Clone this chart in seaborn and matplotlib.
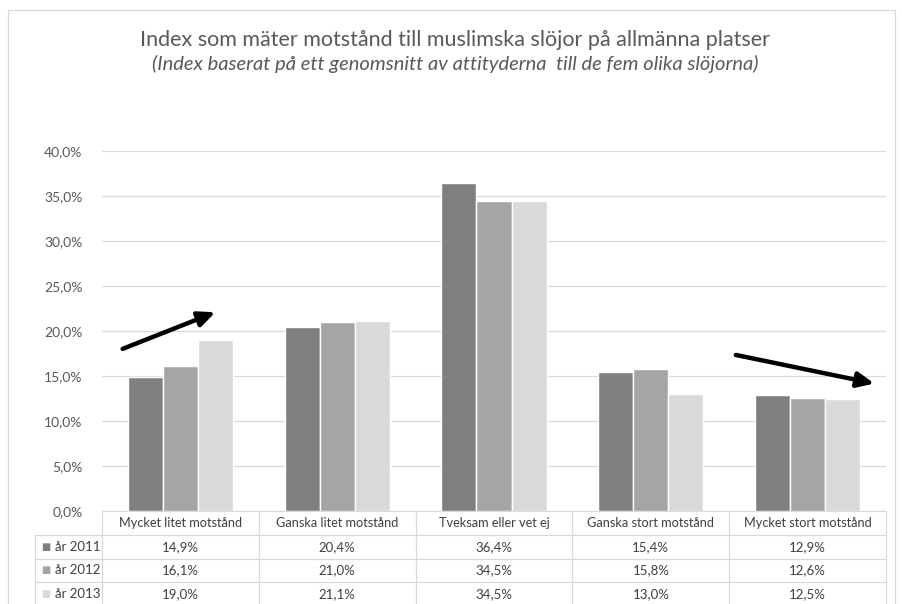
import matplotlib
matplotlib.use("Agg")
import matplotlib.pyplot as plt
import matplotlib.transforms as mtransforms
from matplotlib.patches import Rectangle
import seaborn as sns
import pandas as pd

categories = ["Mycket litet motstånd", "Ganska litet motstånd", "Tveksam eller vet ej",
              "Ganska stort motstånd", "Mycket stort motstånd"]
years = ["år 2011", "år 2012", "år 2013"]
v2011 = [14.9, 20.4, 36.4, 15.4, 12.9]
v2012 = [16.1, 21.0, 34.5, 15.8, 12.6]
v2013 = [19.0, 21.1, 34.5, 13.0, 12.5]
colors = ["#7f7f7f", "#a5a5a5", "#d9d9d9"]
yticks = [0, 5, 10, 15, 20, 25, 30, 35, 40]

series = [v2011, v2012, v2013]
rows = []
for y, vals in zip(years, series):
    for c, v in zip(categories, vals):
        rows.append({"cat": c, "year": y, "val": v / 100})
df = pd.DataFrame(rows)

sns.set_style("white")
plt.rcParams["font.family"] = ["Lato", "DejaVu Sans"]

W, H = 902, 604
fig = plt.figure(figsize=(W / 100, H / 100), dpi=100)
ax = fig.add_axes([102 / W, (H - 511) / H, 784 / W, 360 / H])

sns.barplot(data=df, x="cat", y="val", hue="year", palette=colors, width=0.67,
            ax=ax, legend=False, saturation=1)
ax.set_xlim(-0.5, 4.5)
ax.set_ylim(0, 0.40)
ax.set_yticks([t / 100 for t in yticks])
ax.set_yticklabels([f"{t:.1f}%".replace(".", ",") for t in yticks], color="#595959", fontsize=10)
ax.tick_params(axis="y", length=0, pad=14)
ax.set_xticks([])
ax.set_xlabel("")
ax.set_ylabel("")
ax.grid(axis="y", color="#d9d9d9", linewidth=0.9)
ax.set_axisbelow(True)
for s in ["top", "right", "left"]:
    ax.spines[s].set_visible(False)
ax.spines["bottom"].set_color("#d9d9d9")

# frame
fig.patches.append(Rectangle((8 / W, -0.01), 887 / W, (H - 10) / H + 0.01, transform=fig.transFigure,
                             fill=False, edgecolor="#d9d9d9", linewidth=0.9))

# title
fig.text(455 / W, 1 - 40 / H, "Index som mäter motstånd till muslimska slöjor på allmänna platser",
         ha="center", va="center", fontsize=15.5, color="#595959")
fig.text(455 / W, 1 - 64 / H, "(Index baserat på ett genomsnitt av attityderna  till de fem olika slöjorna)",
         ha="center", va="center", fontsize=14.5, color="#595959", style="italic")

# data table
tr = mtransforms.blended_transform_factory(ax.transData, fig.transFigure)
def fy(p):
    return (H - p) / H
lc = "#d9d9d9"
legx = -0.5 - 67 / 156.8
row_y = [511, 535, 559, 582, 606]
for p in row_y[1:]:
    ax.plot([legx, 4.5], [fy(p), fy(p)], transform=tr, color=lc, lw=0.9, clip_on=False)
for b in [-0.5, 0.5, 1.5, 2.5, 3.5, 4.5]:
    ax.plot([b, b], [fy(511), fy(606)], transform=tr, color=lc, lw=0.9, clip_on=False)
ax.plot([legx, legx], [fy(535), fy(606)], transform=tr, color=lc, lw=0.9, clip_on=False)
for i, c in enumerate(categories):
    ax.text(i, fy(523), c, transform=tr, ha="center", va="center", fontsize=9.2, color="#404040")
for r, (y, vals, col) in enumerate(zip(years, series, colors)):
    yc = fy((row_y[r + 1] + row_y[r + 2]) / 2)
    ax.text(legx + 0.04, yc, "■", transform=tr, ha="left", va="center", fontsize=7,
            color=col, family="DejaVu Sans")
    ax.text(legx + 0.125, yc, y, transform=tr, ha="left", va="center", fontsize=9.5, color="#404040")
    for i, v in enumerate(vals):
        ax.text(i, yc, f"{v:.1f}%".replace(".", ","), transform=tr, ha="center", va="center",
                fontsize=9.5, color="#404040")

# arrows
arrow = dict(arrowstyle="-|>,head_length=1.0,head_width=0.45", color="black", lw=3.2)
ax.annotate("", xy=(0.24, 0.222), xytext=(-0.385, 0.179), arrowprops=arrow, annotation_clip=False)
ax.annotate("", xy=(4.443, 0.141), xytext=(3.525, 0.174), arrowprops=arrow, annotation_clip=False)

fig.savefig("out.png", dpi=100)
